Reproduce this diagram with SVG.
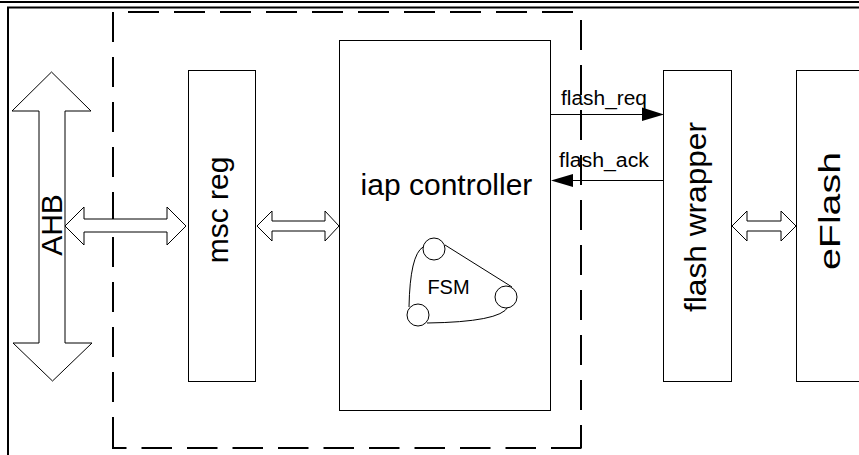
<svg xmlns="http://www.w3.org/2000/svg" width="859" height="455" viewBox="0 0 859 455">
<style>
.box{fill:#fff;stroke:#000;stroke-width:1}
.dbl{fill:#fff;stroke:#000;stroke-width:1;stroke-linejoin:miter}
.big{font-family:"Liberation Sans",Arial,sans-serif;font-size:30px;fill:#000}
.sm{font-family:"Liberation Sans",Arial,sans-serif;font-size:20px;fill:#000}
.dash{stroke:#000;stroke-width:2;fill:none}
.wire{stroke:#000;stroke-width:1;fill:none}
</style>
<rect width="859" height="455" fill="#fff"/>
<g id="frame">
<line x1="0" y1="2" x2="859" y2="2" stroke="#000" stroke-width="2"/>
<path d="M8,455 V7.5 H859" fill="none" stroke="#000" stroke-width="2"/>
</g>
<g id="boundary">
<line class="dash" x1="113" y1="12" x2="581" y2="12" stroke-dasharray="31 15" stroke-dashoffset="31"/>
<line class="dash" x1="113" y1="12" x2="113" y2="448" stroke-dasharray="30 15"/>
<line class="dash" x1="581" y1="12" x2="581" y2="448" stroke-dasharray="30 15" stroke-dashoffset="37"/>
<line class="dash" x1="112" y1="448" x2="582" y2="448" stroke-dasharray="30.5 15" stroke-dashoffset="16"/>
</g>
<g id="ahb">
<polygon class="dbl" points="51.5,72 91,111 65,111 65,343 92,343 52.5,381 13,343 39,343 39,111 12,111"/>
<text class="big" transform="translate(62,225) rotate(-90)" text-anchor="middle">AHB</text>
</g>
<g id="msc_reg">
<rect class="box" x="188.5" y="70.5" width="67" height="311"/>
<text class="big" transform="translate(228,210) rotate(-90)" text-anchor="middle" font-size="31">msc reg</text>
</g>
<g id="iap_controller">
<rect class="box" x="339.5" y="40.5" width="211" height="370"/>
<text class="big" x="446.5" y="195" text-anchor="middle" font-size="31">iap controller</text>
<g id="fsm">
<path class="wire" d="M445,245 L512,287"/>
<path class="wire" d="M508,307 Q500,322 427,323"/>
<path class="wire" d="M423,247 Q410,255 409,307"/>
<circle class="box" cx="434" cy="249" r="11"/>
<circle class="box" cx="506" cy="297" r="11"/>
<circle class="box" cx="418" cy="315" r="11"/>
<text class="sm" x="448.5" y="294" text-anchor="middle">FSM</text>
</g>
</g>
<g id="flash_wrapper">
<rect class="box" x="663.5" y="70.5" width="68" height="311"/>
<text class="big" transform="translate(706,217) rotate(-90)" text-anchor="middle" textLength="190" lengthAdjust="spacingAndGlyphs">flash wrapper</text>
</g>
<g id="eflash">
<rect class="box" x="796.5" y="70.5" width="80" height="311"/>
<text class="big" transform="translate(840,211) rotate(-90)" text-anchor="middle" textLength="118" lengthAdjust="spacingAndGlyphs">eFlash</text>
</g>
<g id="connectors">
<polygon class="dbl" points="65,226 84,207 84,219 167,219 167,207 186,226 167,245 167,232 84,232 84,245"/>
<polygon class="dbl" points="257,226 272,211 272,221 325,221 325,211 339,226 325,241 325,231 272,231 272,241"/>
<polygon class="dbl" points="732,226 747,211 747,221 781,221 781,211 796,226 781,241 781,231 747,231 747,241"/>
<line class="wire" x1="551" y1="114.5" x2="643" y2="114.5"/>
<polygon points="642,107.5 664,114.5 642,121" fill="#000"/>
<line class="wire" x1="664" y1="180.5" x2="572" y2="180.5"/>
<polygon points="573,174 551,180.5 573,187" fill="#000"/>
<text class="sm" x="561" y="105" textLength="86" lengthAdjust="spacingAndGlyphs">flash_req</text>
<text class="sm" x="559" y="167" textLength="90" lengthAdjust="spacingAndGlyphs">flash_ack</text>
</g>
</svg>
